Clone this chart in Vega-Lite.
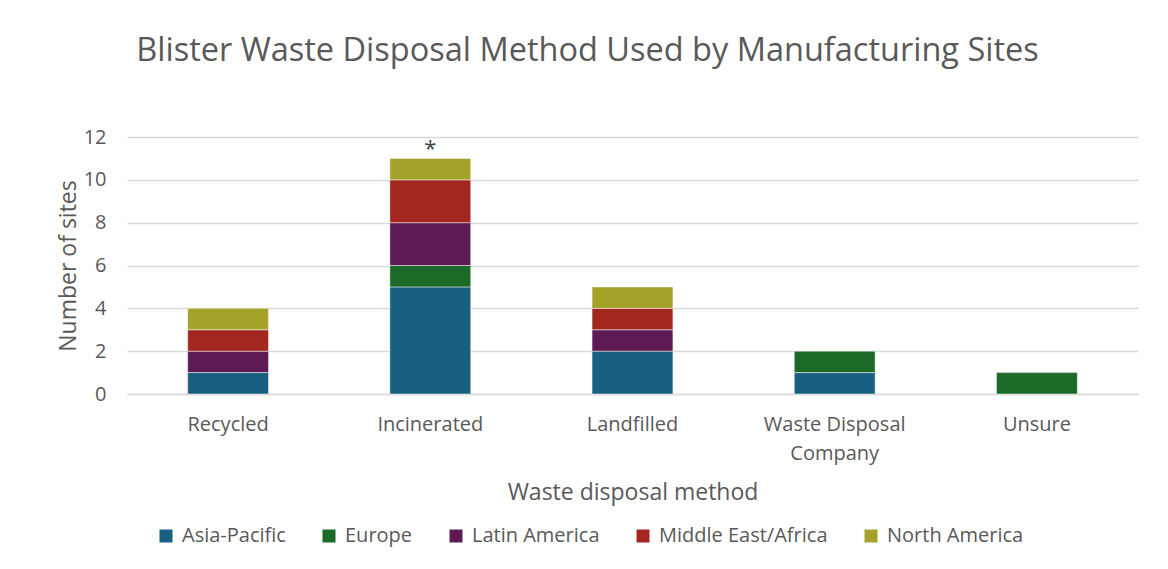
{
  "$schema": "https://vega.github.io/schema/vega-lite/v6.json",
  "autosize": "none",
  "width": 1011,
  "height": 257,
  "padding": {"left": 127, "top": 137, "right": 30, "bottom": 175},
  "background": "#ffffff",
  "title": {
    "text": "Blister Waste Disposal Method Used by Manufacturing Sites",
    "font": "Open Sans",
    "fontSize": 32.5,
    "fontWeight": "normal",
    "color": "#595959",
    "anchor": "middle",
    "dx": -45,
    "offset": 60
  },
  "datasets": {
    "sites": [
      {"method": "Recycled", "region": "Asia-Pacific", "count": 1},
      {"method": "Recycled", "region": "Latin America", "count": 1},
      {"method": "Recycled", "region": "Middle East/Africa", "count": 1},
      {"method": "Recycled", "region": "North America", "count": 1},
      {"method": "Incinerated", "region": "Asia-Pacific", "count": 5},
      {"method": "Incinerated", "region": "Europe", "count": 1},
      {"method": "Incinerated", "region": "Latin America", "count": 2},
      {"method": "Incinerated", "region": "Middle East/Africa", "count": 2},
      {"method": "Incinerated", "region": "North America", "count": 1},
      {"method": "Landfilled", "region": "Asia-Pacific", "count": 2},
      {"method": "Landfilled", "region": "Latin America", "count": 1},
      {"method": "Landfilled", "region": "Middle East/Africa", "count": 1},
      {"method": "Landfilled", "region": "North America", "count": 1},
      {"method": "Waste Disposal Company", "region": "Asia-Pacific", "count": 1},
      {"method": "Waste Disposal Company", "region": "Europe", "count": 1},
      {"method": "Unsure", "region": "Europe", "count": 1}
    ],
    "notes": [
      {"method": "Incinerated", "total": 11, "note": "*"}
    ]
  },
  "layer": [
    {
      "data": {"name": "sites"},
      "mark": {"type": "bar", "stroke": "#ffffff", "strokeWidth": 0.8, "strokeOpacity": 0.6},
      "encoding": {
        "x": {
          "field": "method",
          "type": "nominal",
          "sort": ["Recycled", "Incinerated", "Landfilled", "Waste Disposal Company", "Unsure"],
          "scale": {"paddingInner": 0.6, "paddingOuter": 0.3},
          "axis": {
            "title": "Waste disposal method",
            "labelAngle": 0,
            "labelExpr": "datum.label == 'Waste Disposal Company' ? ['Waste Disposal', 'Company'] : datum.label",
            "labelLineHeight": 29,
            "labelPadding": 20,
            "labelBaseline": "top",
            "titlePadding": 18
          }
        },
        "y": {
          "field": "count",
          "type": "quantitative",
          "aggregate": "sum",
          "stack": "zero",
          "scale": {"domain": [0, 12]},
          "axis": {
            "title": "Number of sites",
            "values": [0, 2, 4, 6, 8, 10, 12],
            "grid": true,
            "labelPadding": 21,
            "labelFontSize": 20,
            "titlePadding": 3
          }
        },
        "color": {
          "field": "region",
          "type": "nominal",
          "scale": {
            "domain": ["Asia-Pacific", "Europe", "Latin America", "Middle East/Africa", "North America"],
            "range": ["#185f81", "#1c6a27", "#5e1a55", "#a4271f", "#a4a229"]
          },
          "legend": {
            "title": null,
            "orient": "none",
            "direction": "horizontal",
            "legendX": 29,
            "legendY": 389,
            "symbolType": "square",
            "symbolSize": 169,
            "symbolStrokeWidth": 0,
            "labelOffset": 6,
            "labelLimit": 400,
            "columnPadding": 33
          }
        },
        "order": {"field": "region", "sort": "ascending"}
      }
    },
    {
      "data": {"name": "notes"},
      "mark": {"type": "text", "baseline": "bottom", "dy": 3, "font": "Open Sans", "fontSize": 22, "color": "#404040"},
      "encoding": {
        "x": {"field": "method", "type": "nominal", "sort": ["Recycled", "Incinerated", "Landfilled", "Waste Disposal Company", "Unsure"]},
        "y": {"field": "total", "type": "quantitative"},
        "text": {"field": "note"}
      }
    }
  ],
  "config": {
    "view": {"stroke": null},
    "font": "Open Sans",
    "axis": {
      "labelFont": "Open Sans",
      "titleFont": "Open Sans",
      "labelColor": "#595959",
      "titleColor": "#595959",
      "labelFontSize": 20,
      "titleFontSize": 23,
      "titleFontWeight": "normal",
      "ticks": false,
      "domain": false,
      "gridColor": "#d9d9d9",
      "gridWidth": 1.5
    },
    "axisX": {"domain": true, "domainColor": "#d9d9d9", "domainWidth": 1.5},
    "legend": {
      "labelFont": "Open Sans",
      "labelFontSize": 20,
      "labelColor": "#595959"
    }
  }
}
